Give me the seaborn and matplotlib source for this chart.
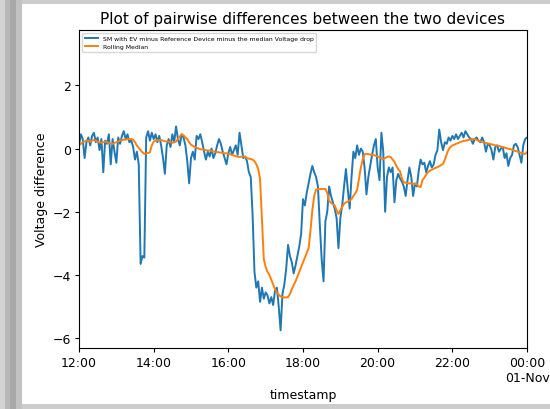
import pandas as pd
import matplotlib
matplotlib.use("Agg")
import matplotlib.pyplot as plt
import matplotlib.dates as mdates
from matplotlib.ticker import FuncFormatter
from matplotlib.patches import Rectangle
import seaborn as sns

START = "2023-10-31 12:00"
STEP = "3min"

# voltage difference, one value every 3 minutes from 12:00 to 00:00
diff_values = [
    0.10, 0.45, 0.30, -0.30, 0.20, 0.35, 0.10, 0.40, 0.50, 0.20,
    0.35, -0.05, 0.30, -0.75, 0.25, 0.15, 0.45, -0.50, 0.30, -0.10,
    -0.45, 0.35, 0.15, 0.40, 0.55, 0.30, 0.45, 0.20, 0.25, 0.05,
    -0.35, -0.10, -0.50, -3.65, -3.40, -3.45, 0.35, 0.55, 0.25, 0.50,
    0.30, 0.45, 0.20, 0.40, 0.10, -0.30, -0.80, 0.10, 0.30, 0.05,
    0.45, 0.20, 0.70, 0.30, 0.10, 0.45, 0.35, 0.10, -0.40, -1.10,
    -0.30, -0.10, -0.35, 0.40, 0.30, 0.45, 0.20, -0.10, -0.35, -0.10,
    -0.25, 0.00, -0.30, -0.15, 0.10, 0.30, 0.15, -0.10, -0.30, -0.50,
    -0.15, 0.05, -0.20, -0.05, 0.10, -0.20, 0.50, 0.10, -0.30, -0.25,
    -0.40, -0.75, -0.90, -2.10, -3.90, -4.40, -4.20, -4.85, -4.40, -4.75,
    -4.55, -4.65, -4.90, -4.70, -4.95, -4.50, -4.40, -5.00, -5.75, -4.60,
    -4.30, -3.80, -3.05, -3.40, -3.60, -3.95, -3.70, -3.40, -3.10, -2.70,
    -1.60, -1.80, -1.40, -1.10, -0.80, -0.55, -0.75, -0.90, -1.20, -2.40,
    -3.50, -4.20, -2.30, -2.00, -1.20, -1.50, -1.70, -1.90, -2.20, -3.15,
    -2.20, -1.80, -1.20, -0.65, -1.30, -1.90, -0.90, -0.10, -0.30, 0.10,
    -0.20, 0.00, -0.10, -0.60, -1.45, -0.90, -0.55, -0.20, 0.10, 0.30,
    -0.60, -1.00, 0.50, -0.10, -2.00, -0.90, -0.60, -0.75, -0.60, -1.70,
    -1.00, -0.80, -0.95, -1.05, -1.20, -1.50, -1.00, -0.60, -0.90, -1.50,
    -1.10, -1.20, -0.70, -0.35, -0.50, -0.45, -0.75, -0.55, -0.40, -0.60,
    -0.50, -0.20, -0.05, 0.60, 0.20, -0.05, 0.20, 0.15, 0.35, 0.25,
    0.40, 0.30, 0.45, 0.30, 0.40, 0.50, 0.35, 0.55, 0.45, 0.35,
    0.30, 0.15, 0.30, 0.35, 0.25, 0.20, 0.35, 0.20, -0.10, 0.15,
    0.10, -0.05, -0.35, 0.05, 0.10, -0.10, 0.00, 0.05, -0.30, -0.15,
    -0.55, -0.30, -0.20, 0.10, 0.15, 0.05, -0.20, -0.45, 0.10, 0.30,
    0.35,
]

# rolling median, same timestamps
median_values = [
    0.10, 0.15, 0.20, 0.22, 0.25, 0.25, 0.22, 0.25, 0.27, 0.25,
    0.22, 0.20, 0.18, 0.20, 0.22, 0.20, 0.18, 0.15, 0.15, 0.18,
    0.20, 0.22, 0.25, 0.27, 0.28, 0.28, 0.30, 0.30, 0.30, 0.28,
    0.20, 0.10, 0.02, -0.05, -0.12, -0.17, -0.15, -0.14, -0.12, 0.10,
    0.22, 0.25, 0.26, 0.27, 0.27, 0.25, 0.23, 0.22, 0.22, 0.20,
    0.18, 0.20, 0.22, 0.30, 0.38, 0.45, 0.42, 0.35, 0.30, 0.20,
    0.12, 0.09, 0.05, 0.02, 0.00, -0.02, -0.03, -0.04, -0.05, -0.06,
    -0.06, -0.08, -0.09, -0.10, -0.11, -0.12, -0.13, -0.14, -0.15, -0.15,
    -0.17, -0.18, -0.20, -0.22, -0.24, -0.26, -0.27, -0.26, -0.25, -0.27,
    -0.30, -0.32, -0.33, -0.35, -0.40, -0.50, -0.65, -0.97, -2.20, -3.50,
    -3.75, -3.90, -4.00, -4.15, -4.30, -4.45, -4.55, -4.62, -4.68, -4.70,
    -4.71, -4.71, -4.70, -4.60, -4.45, -4.32, -4.20, -4.05, -3.90, -3.75,
    -3.60, -3.45, -3.30, -3.15, -2.60, -1.95, -1.50, -1.30, -1.28, -1.28,
    -1.28, -1.28, -1.28, -1.40, -1.65, -1.72, -1.76, -1.80, -1.95, -2.07,
    -1.95, -1.85, -1.75, -1.70, -1.68, -1.65, -1.60, -1.50, -1.42, -1.30,
    -0.95, -0.60, -0.35, -0.18, -0.17, -0.18, -0.19, -0.20, -0.21, -0.23,
    -0.25, -0.28, -0.31, -0.33, -0.30, -0.27, -0.25, -0.27, -0.35, -0.42,
    -0.55, -0.65, -0.72, -0.95, -1.07, -1.08, -1.10, -1.10, -1.11, -1.12,
    -1.12, -1.13, -1.20, -1.22, -1.00, -0.92, -0.82, -0.75, -0.70, -0.67,
    -0.64, -0.61, -0.59, -0.56, -0.52, -0.49, -0.35, -0.18, -0.03, 0.05,
    0.10, 0.12, 0.15, 0.17, 0.20, 0.22, 0.24, 0.25, 0.26, 0.28,
    0.29, 0.30, 0.30, 0.28, 0.25, 0.23, 0.21, 0.20, 0.18, 0.16,
    0.15, 0.13, 0.12, 0.10, 0.09, 0.08, 0.06, 0.04, 0.03, 0.01,
    -0.01, -0.02, -0.04, -0.06, -0.08, -0.10, -0.12, -0.14, -0.16, -0.17,
    -0.12,
]

SERIES_LABEL = "SM with EV minus Reference Device minus the median Voltage drop"
MEDIAN_LABEL = "Rolling Median"


def hour_label(x, pos):
    d = mdates.num2date(x)
    if d.hour == 0:
        return d.strftime("%H:%M\n%d-%b")
    return d.strftime("%H:%M")


def plot_differences():
    df = pd.DataFrame({
        "timestamp": pd.date_range(START, periods=len(diff_values), freq=STEP),
        "diff": diff_values,
        "median": median_values,
    })

    plt.rcParams["xtick.major.size"] = 3
    plt.rcParams["ytick.major.size"] = 3
    plt.rcParams["xtick.major.pad"] = 3
    plt.rcParams["ytick.major.pad"] = 3

    fig = plt.figure(figsize=(5.5, 4.1), dpi=100)
    # grey screenshot frame around the figure
    fig.patch.set_facecolor("#cdcdcd")
    for x0, w, c in [(0, 5, "#d4d4d4"), (5, 5, "#b8b8b8"), (10, 6, "#a9a9a9"), (16, 6, "#c2c2c2")]:
        fig.patches.append(Rectangle((x0 / 550, 0), w / 550, 1, transform=fig.transFigure,
                                     facecolor=c, edgecolor="none", zorder=-2))
    fig.patches.append(Rectangle((22 / 550, 5 / 410), 1, 400 / 410, transform=fig.transFigure,
                                 facecolor="white", edgecolor="none", zorder=-1))

    ax = fig.add_axes([79 / 550, 1 - 349 / 410, 448 / 550, 318 / 410])
    sns.lineplot(data=df, x="timestamp", y="diff", ax=ax, color="#1f77b4",
                 linewidth=1.4, label=SERIES_LABEL)
    sns.lineplot(data=df, x="timestamp", y="median", ax=ax, color="#ff7f0e",
                 linewidth=1.4, label=MEDIAN_LABEL)

    ax.set_xlim(df["timestamp"].iloc[0], df["timestamp"].iloc[-1])
    ax.set_ylim(-6.31, 3.75)
    ax.xaxis.set_major_locator(mdates.HourLocator(byhour=range(0, 24, 2)))
    ax.xaxis.set_major_formatter(FuncFormatter(hour_label))
    ax.tick_params(labelsize=9)

    ax.set_title("Plot of pairwise differences between the two devices", fontsize=11, pad=5)
    ax.set_xlabel("timestamp", fontsize=9, labelpad=3)
    ax.set_ylabel("Voltage difference", fontsize=9, labelpad=3)
    ax.legend(loc="upper left", fontsize=4.4, handlelength=2.2)

    fig.savefig("out.png", dpi=100, facecolor=fig.get_facecolor())


if __name__ == "__main__":
    plot_differences()
